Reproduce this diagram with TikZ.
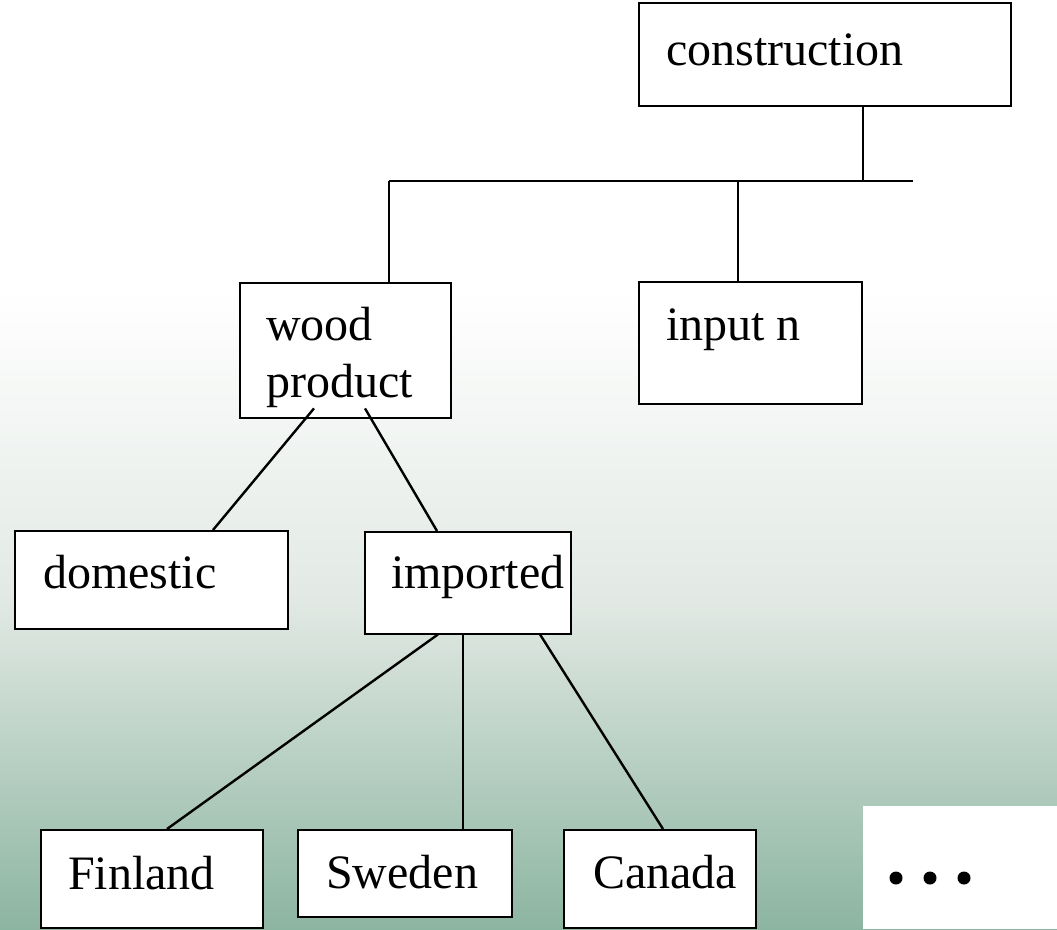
\documentclass[tikz,border=0pt]{standalone}
\usepackage{fontspec}
\setmainfont{Liberation Serif}
\usetikzlibrary{calc}
\definecolor{paleback}{HTML}{E2E9E4}
\definecolor{deepback}{HTML}{8CB5A1}

\begin{document}
\begin{tikzpicture}[x=1pt,y=-1pt,line width=2.4pt,
  box/.style={draw,fill=white,rectangle,inner sep=0pt,anchor=north west},
  word/.style={font=\fontsize{48}{57}\selectfont,inner sep=0pt,anchor=base west,align=left}]
  \useasboundingbox (0,0) rectangle (1057,929);
  % background
  \fill[white] (0,0) rectangle (1057,290);
  \shade[top color=white,bottom color=paleback] (0,289) rectangle (1057,601);
  \shade[top color=paleback,bottom color=deepback] (0,600) rectangle (1057,929);
  \fill[white] (863,806) rectangle (1057,929);

  \node[box,minimum width=372,minimum height=103] (cons) at (638,2)   {};
  \node[box,minimum width=211,minimum height=135] (wood) at (239,282) {};
  \node[box,minimum width=223,minimum height=122] (inp)  at (638,281) {};
  \node[box,minimum width=273,minimum height=98]  (dom)  at (14,530)  {};
  \node[box,minimum width=206,minimum height=102] (imp)  at (364,531) {};
  \node[box,minimum width=222,minimum height=98]  (fin)  at (40,829)  {};
  \node[box,minimum width=214,minimum height=87]  (swe)  at (297,829) {};
  \node[box,minimum width=192,minimum height=98]  (can)  at (563,829) {};

  \node[word] (consT) at ($(cons.north west)+(27,63)$) {construction};
  \node[word] (woodT) at ($(wood.north west)+(26,115)$) {wood\\product};
  \node[word] (inpT)  at ($(inp.north west)+(27,59)$)  {input n};
  \node[word] (domT)  at ($(dom.north west)+(28,58)$)  {domestic};
  \node[word] (impT)  at ($(imp.north west)+(26,57)$)  {imported};
  \node[word] (finT)  at ($(fin.north west)+(27,60)$)  {Finland};
  \node[word] (sweT)  at ($(swe.north west)+(28,59)$)  {Sweden};
  \node[word] (canT)  at ($(can.north west)+(29,59)$)  {Canada};

  % bus under construction
  \coordinate (busL) at (389,181);
  \coordinate (busR) at (913,181);
  \coordinate (jC)   at (863,181);
  \coordinate (jI)   at (738,181);
  \draw (busL) -- (busR);
  \draw (jC |- cons.south) -- (jC);
  \draw (busL) -- (busL |- wood.north);
  \draw (jI) -- (jI |- inp.north);

  % wood product branches
  \draw ($(wood.south west)+(75,-11)$)  -- ($(dom.north west)+(199,0)$);
  \draw ($(wood.south west)+(126,-11)$) -- ($(imp.north west)+(73,0)$);

  % imported branches
  \draw ($(imp.south west)+(74,-1)$)  -- ($(fin.north west)+(127,0)$);
  \draw ($(imp.south west)+(99,-1)$)  -- ($(swe.north west)+(166,0)$);
  \draw ($(imp.south west)+(176,-1)$) -- ($(can.north west)+(100,0)$);

  % more countries
  \foreach \dx in {896,930,964}
    \fill (\dx,878) circle (6.5pt);
\end{tikzpicture}
\end{document}
